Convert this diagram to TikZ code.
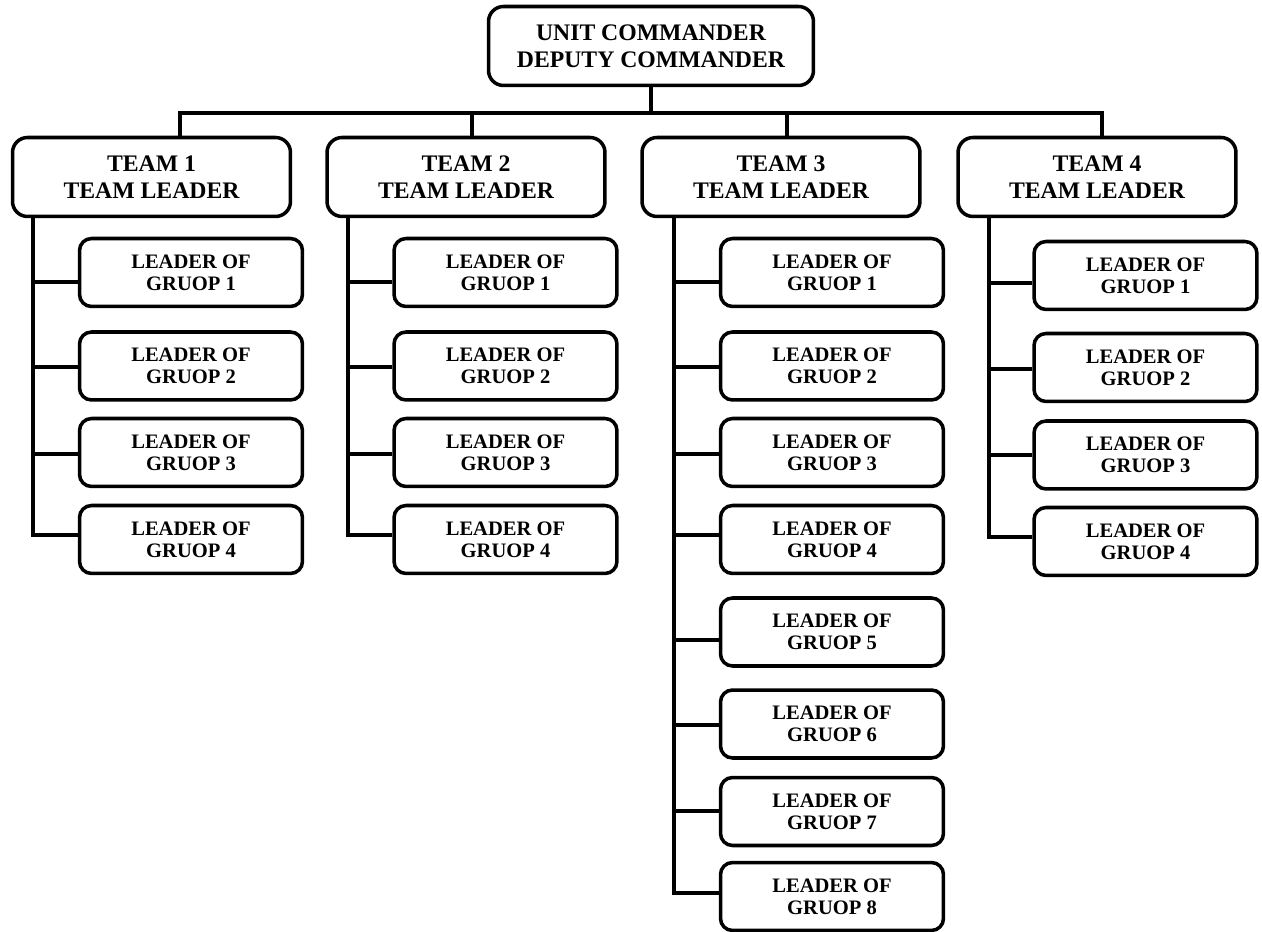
\documentclass[tikz,border=0pt]{standalone}
\usepackage{fontspec}
\setmainfont{Liberation Serif}
\begin{document}
\begin{tikzpicture}[x=0.02cm,y=-0.02cm,line width=2pt,
  chief/.style={draw,rounded corners=0.3cm,align=center,inner sep=0pt,
    font=\fontsize{13.5}{15.5}\selectfont\bfseries,
    minimum width=6.5cm,minimum height=1.58cm},
  team/.style={chief,minimum width=5.56cm},
  group/.style={draw,rounded corners=0.24cm,align=center,inner sep=0pt,
    font=\fontsize{11.7}{12.5}\selectfont\bfseries,
    minimum width=4.46cm,minimum height=1.36cm}]
\useasboundingbox (0,0) rectangle (1262,932);
\node[chief] (cmd) at (651,46) {UNIT COMMANDER\\DEPUTY COMMANDER};
\node[team] (t1) at (151.5,177) {TEAM 1\\TEAM LEADER};
\node[team] (t2) at (466,177) {TEAM 2\\TEAM LEADER};
\node[team] (t3) at (781,177) {TEAM 3\\TEAM LEADER};
\node[team] (t4) at (1097,177) {TEAM 4\\TEAM LEADER};
% bar under the commander
\coordinate (d1) at (180,113);
\coordinate (d2) at (472,113);
\coordinate (d3) at (787,113);
\coordinate (d4) at (1102,113);
\draw (cmd.south) -- (cmd.south |- d1);
\draw (d1 |- t1.north) -- (d1) -- (d4) -- (d4 |- t4.north);
\draw (d2) -- (d2 |- t2.north);
\draw (d3) -- (d3 |- t3.north);
% groups of each team
\foreach \t/\gx/\rx/\m/\rows in {
  1/191/33/4/{272.5/282,366/367,452.5/454,539.5/535},
  2/505.5/348/4/{272.5/282,366/367,452.5/454,539.5/535},
  3/832/674/8/{272.5/282,366/367,452.5/454,539.5/535,632/640,724/725,811.5/811,896.5/893},
  4/1145.5/989/4/{275.5/283,367.5/369,455/455,541.5/537}}{
  \foreach \gy/\cy [count=\k] in \rows{
    \node[group] (g\t-\k) at (\gx,\gy) {LEADER OF\\GRUOP \k};
    \coordinate (c\t-\k) at (\rx,\cy);
    \draw (c\t-\k) -- (c\t-\k -| g\t-\k.west);
  }
  \draw (t\t.south -| c\t-1) -- (c\t-\m) -- (c\t-\m -| g\t-\m.west);
}
\end{tikzpicture}
\end{document}
